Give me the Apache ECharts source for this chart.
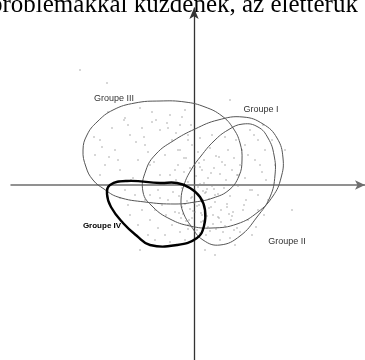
<!DOCTYPE html>
<html>
<head>
<meta charset="utf-8">
<script src="https://cdn.jsdelivr.net/npm/echarts@6/dist/echarts.min.js"></script>
<style>html,body{margin:0;padding:0;background:#fff}#c{width:365px;height:360px}</style>
</head>
<body>
<div id="c"></div>
<script>
// Coordinates: origin at the axes crossing, 1 unit ~ 1 px, y up.
const titleText = "problémákkal küzdenek, az élettérük";
const groupNames = ["Groupe I", "Groupe II", "Groupe III", "Groupe IV"];

const groupI = [[-51,-7],[-48,15],[-38,31],[-21,44],[1,56],[24,65],[49,68],[69,61],[83,47],[89,27],[87,7],[79,-11],[64,-27],[43,-39],[18,-43],[-4,-41],[-24,-34],[-41,-22]];
const groupII = [[-13,-15],[-10,0],[-3,15],[7,29],[20,44],[34,55],[49,61],[64,58],[74,47],[80,30],[81,10],[76,-12],[63,-32],[46,-51],[26,-60],[9,-55],[-3,-41],[-11,-27]];
const groupIII = [[-34,84],[-9,83],[11,78],[28,69],[39,57],[46,42],[48,25],[45,9],[35,-5],[19,-13],[1,-17],[-19,-19],[-49,-17],[-76,-12],[-90,-4],[-101,5],[-108,18],[-111,35],[-107,50],[-97,63],[-81,75],[-59,82]];
const groupIV = [[-84,0],[-67,4],[-34,2],[-17,2],[-4,-3],[6,-12],[11,-25],[10,-41],[3,-53],[-17,-60],[-44,-60],[-57,-51],[-71,-38],[-83,-22],[-87,-9]];

const labelPos = [[67,75],[93,-57],[-80,86],[-92,-41]];

const dotsX = [
 -86,-69,-54,-42,-24,-14,-94,-79,-64,-49,-34,-22,-9,-89,-74,-56,-44,-29,-16,-99,-66,-52,-82,-19,-34,-61,-76,-42,-6,-26,
 -14,-8,-2,4,10,16,22,28,34,40,
 -16,-10,-4,2,8,14,20,26,32,38,
 -18,-12,-6,1,6,12,18,24,30,36,
 -15,-9,-3,3,9,15,21,27,33,39,
 -11,-5,1,7,13,19,25,31,37,43,
 46,51,56,52,44,48,42,31,18,6,
 -6,-21,-26,-30,-24,-36,-32,-39,-44,-28,
 -74,-66,-59,-52,-44,-36,-29,-22,-14,-6,-64,-56,-46,-34,-19,-9,-49,-69,-39,-24,
 56,64,71,61,68,76,74,64,54,46,36,26,58,81,51,69,78,64,49,41,
 -114,-87,91,98,11,21,-54,-94,36,-134,
 2,-2,5,9,-7,13,17,-1,4,8,21,-12,15,0,11,
 -2,3,7,12,-8,16,24,29,35,-4,9,14,19,27,33,-13,-6,6,22,38,1,5,-10,17,25,31,43,10,-15,20,
 -100,-92,-70,-58,-46,-38,-27,-12,-3,6,-85,-63,-40,-18,-50,
 54,60,66,72,58,50,44,70,62,40
];
const dotsY = [
 73,67,77,63,70,60,45,35,50,40,55,45,75,20,15,25,20,30,35,30,60,57,57,15,10,7,25,73,45,57,
 35,27,40,33,25,37,29,23,35,27,
 20,13,17,9,15,7,17,11,5,15,
 5,-3,3,-5,1,-7,-1,-9,-3,-11,
 -11,-19,-13,-21,-15,-23,-17,-25,-19,-27,
 -29,-35,-27,-37,-31,-39,-33,-41,-35,-43,
 20,7,-5,-15,-1,35,45,48,50,47,
 50,-7,-15,0,10,-5,-20,-25,-10,-30,
 -13,-20,-10,-25,-35,-43,-50,-40,-47,-40,-30,-40,-50,-13,-27,-55,-15,-5,-55,-57,
 55,45,35,25,13,0,-15,-25,-35,-47,-53,-55,-50,20,40,60,45,-10,-25,-60,
 115,102,35,-25,-65,-70,-65,10,85,0,
 -8,-12,-20,-6,-16,-4,-22,-26,-2,-30,-10,-22,-14,-18,-8,
 -33,-45,-28,-50,-36,-46,-32,-47,-29,-24,-36,-42,-30,-37,-22,-33,-44,-48,-44,-31,18,22,27,12,28,20,10,2,-28,-4,
 48,38,65,43,33,65,62,68,60,18,28,5,23,52,48,
 30,50,20,5,-5,-20,10,-30,-42,-45
];
const dots = dotsX.map((x, i) => [x, dotsY[i]]);

const chart = echarts.init(document.getElementById('c'), null, {renderer: 'canvas'});

function curveSeries(name, pts, color, width) {
  return {
    type: 'custom', name: name, data: pts, z: 3, silent: true,
    renderItem: function (params, api) {
      if (params.dataIndex !== 0) return null;
      const p = pts.map(q => api.coord(q));
      return {type: 'polygon', shape: {points: p, smooth: 0.45},
        style: {fill: 'none', stroke: color, lineWidth: width}};
    }
  };
}

const labelSeries = {
  type: 'custom', silent: true, z: 4,
  data: labelPos.map((p, i) => [p[0], p[1], i]),
  renderItem: function (params, api) {
    const c = api.coord([api.value(0), api.value(1)]);
    const i = api.value(2);
    const bold = i === 3;
    return {type: 'text', x: c[0], y: c[1], style: {
      text: groupNames[i], align: 'center', verticalAlign: 'middle',
      font: (bold ? 'bold 8px ' : '9px ') + (bold ? '"Liberation Sans"' : '"Liberation Sans Narrow", "Liberation Sans"'),
      fill: bold ? '#000' : '#333'}};
  }
};

chart.setOption({
  animation: false,
  grid: {left: 11, right: 0, top: 8, bottom: 0},
  xAxis: {type: 'value', min: -183, max: 171,
    axisLine: {onZero: true, symbol: ['none', 'arrow'], symbolSize: [7, 10], lineStyle: {color: '#6e6e6e', width: 1.5}},
    axisTick: {show: false}, axisLabel: {show: false}, splitLine: {show: false}},
  yAxis: {type: 'value', min: -175, max: 177,
    axisLine: {onZero: true, symbol: ['none', 'arrow'], symbolSize: [7, 11], lineStyle: {color: '#333', width: 1.3}},
    axisTick: {show: false}, axisLabel: {show: false}, splitLine: {show: false}},
  graphic: [{type: 'text', x: -10, y: -7, style: {text: titleText, font: '25px "Liberation Serif"', fill: '#000'}}],
  series: [
    {type: 'scatter', data: dots, symbolSize: 1.6, itemStyle: {color: '#8f8f8f'}, z: 2, silent: true},
    curveSeries(groupNames[0], groupI, '#555', 1),
    curveSeries(groupNames[1], groupII, '#555', 1),
    curveSeries(groupNames[2], groupIII, '#555', 1),
    curveSeries(groupNames[3], groupIV, '#000', 2.4),
    labelSeries
  ]
});
</script>
</body>
</html>
